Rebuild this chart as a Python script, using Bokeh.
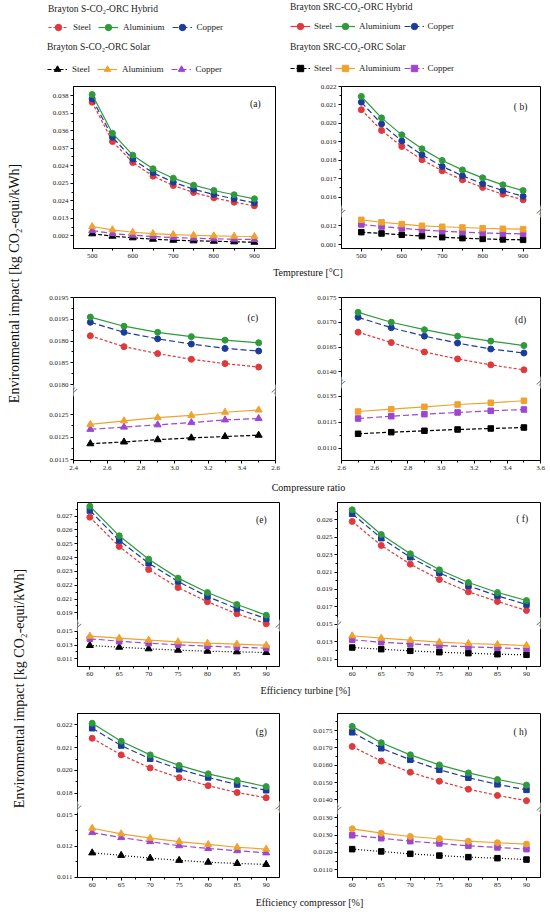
import math
from bokeh.plotting import figure
from bokeh.models import Range1d, FixedTicker, Label, Legend, LegendItem
from bokeh.layouts import column, row
from bokeh.embed import file_html
from bokeh.resources import INLINE

FONT = "Liberation Serif"
RED = "#e0393b"
GREEN = "#2f9a3c"
BLUE = "#1c3c9c"
BLACK = "#000000"
ORANGE = "#f0a22e"
PURPLE = "#9c46d2"

# ---------------- data ----------------
TEMP = [500, 550, 600, 650, 700, 750, 800, 850, 900]
CR = [2.5, 2.7, 2.9, 3.1, 3.3, 3.5]
EFF = [60, 65, 70, 75, 80, 85, 90]

A_H_STEEL = [0.03666, 0.02883, 0.02464, 0.02191, 0.02005, 0.01866, 0.01760, 0.01672, 0.01600]
A_H_ALU = [0.03820, 0.03048, 0.02610, 0.02338, 0.02151, 0.02011, 0.01905, 0.01820, 0.01740]
A_H_CU = [0.03734, 0.02968, 0.02530, 0.02258, 0.02071, 0.01931, 0.01826, 0.01740, 0.01660]
A_S_STEEL = [0.01042, 0.00994, 0.00962, 0.00934, 0.00914, 0.00902, 0.00894, 0.00882, 0.00874]
A_S_ALU = [0.01187, 0.01121, 0.01073, 0.01047, 0.01027, 0.01013, 0.01001, 0.00993, 0.00988]
A_S_CU = [0.01108, 0.01048, 0.01014, 0.00988, 0.00968, 0.00954, 0.00942, 0.00934, 0.00928]

B_H_STEEL = [0.02074, 0.01962, 0.01875, 0.01803, 0.01743, 0.01694, 0.01653, 0.01616, 0.01586]
B_H_ALU = [0.02146, 0.02030, 0.01938, 0.01862, 0.01799, 0.01748, 0.01705, 0.01667, 0.01636]
B_H_CU = [0.02115, 0.01997, 0.01905, 0.01830, 0.01767, 0.01716, 0.01673, 0.01636, 0.01605]
B_S_STEEL = [0.01166, 0.01159, 0.01152, 0.01145, 0.01139, 0.01134, 0.01130, 0.01127, 0.01125]
B_S_ALU = [0.01232, 0.01219, 0.01209, 0.01200, 0.01195, 0.01191, 0.01187, 0.01184, 0.01182]
B_S_CU = [0.01207, 0.01196, 0.01187, 0.01178, 0.01171, 0.01166, 0.01162, 0.01159, 0.01157]

C_H_STEEL = [0.01912, 0.01887, 0.01871, 0.01858, 0.01848, 0.01840]
C_H_ALU = [0.01955, 0.01934, 0.01920, 0.01910, 0.01902, 0.01896]
C_H_CU = [0.01943, 0.01920, 0.01905, 0.01893, 0.01883, 0.01877]
C_S_STEEL = [0.01185, 0.01189, 0.01194, 0.01198, 0.01201, 0.01204]
C_S_ALU = [0.01228, 0.01236, 0.01243, 0.01248, 0.01255, 0.01260]
C_S_CU = [0.01217, 0.01222, 0.01227, 0.01232, 0.01238, 0.01241]

D_H_STEEL = [0.01680, 0.01659, 0.01640, 0.01626, 0.01614, 0.01604]
D_H_ALU = [0.01720, 0.01700, 0.01685, 0.01672, 0.01662, 0.01653]
D_H_CU = [0.01710, 0.01689, 0.01672, 0.01658, 0.01646, 0.01638]
D_S_STEEL = [0.011277, 0.011308, 0.011335, 0.011360, 0.011379, 0.011398]
D_S_ALU = [0.011706, 0.011750, 0.011796, 0.011840, 0.011873, 0.011912]
D_S_CU = [0.011571, 0.011615, 0.011654, 0.011687, 0.011719, 0.011744]

E_H_STEEL = [0.02692, 0.02480, 0.02313, 0.02183, 0.02080, 0.01993, 0.01921]
E_H_ALU = [0.02771, 0.02557, 0.02388, 0.02251, 0.02147, 0.02060, 0.01983]
E_H_CU = [0.02740, 0.02523, 0.02359, 0.02227, 0.02118, 0.02031, 0.01957]
E_S_STEEL = [0.01293, 0.01268, 0.01245, 0.01225, 0.01210, 0.01201, 0.01191]
E_S_ALU = [0.01428, 0.01399, 0.01370, 0.01346, 0.01326, 0.01312, 0.01297]
E_S_CU = [0.01390, 0.01355, 0.01326, 0.01303, 0.01283, 0.01268, 0.01254]

F_H_STEEL = [0.02681, 0.02405, 0.02190, 0.02014, 0.01872, 0.01761, 0.01658]
F_H_ALU = [0.02815, 0.02531, 0.02309, 0.02125, 0.01979, 0.01864, 0.01772]
F_H_CU = [0.02769, 0.02489, 0.02270, 0.02091, 0.01941, 0.01826, 0.01726]
F_S_STEEL = [0.01232, 0.01213, 0.01194, 0.01178, 0.01167, 0.01155, 0.01148]
F_S_ALU = [0.01367, 0.01339, 0.01316, 0.01293, 0.01278, 0.01267, 0.01255]
F_S_CU = [0.01321, 0.01293, 0.01275, 0.01255, 0.01240, 0.01229, 0.01217]

G_H_STEEL = [0.02141, 0.02068, 0.02011, 0.01968, 0.01933, 0.01903, 0.01880]
G_H_ALU = [0.02207, 0.02128, 0.02068, 0.02022, 0.01985, 0.01956, 0.01929]
G_H_CU = [0.02185, 0.02109, 0.02051, 0.02005, 0.01969, 0.01938, 0.01913]
G_S_STEEL = [0.01178, 0.01170, 0.01161, 0.01154, 0.01148, 0.01144, 0.01141]
G_S_ALU = [0.01257, 0.01239, 0.01225, 0.01214, 0.01205, 0.01196, 0.01190]
G_S_CU = [0.01243, 0.01227, 0.01214, 0.01201, 0.01192, 0.01185, 0.01178]

H_H_STEEL = [0.01704, 0.01662, 0.01630, 0.01604, 0.01581, 0.01563, 0.01548]
H_H_ALU = [0.01762, 0.01715, 0.01680, 0.01651, 0.01628, 0.01609, 0.01593]
H_H_CU = [0.01745, 0.01699, 0.01666, 0.01637, 0.01614, 0.01595, 0.01579]
H_S_STEEL = [0.01219, 0.01206, 0.01192, 0.01182, 0.01173, 0.01167, 0.01159]
H_S_ALU = [0.01336, 0.01311, 0.01292, 0.01279, 0.01265, 0.01256, 0.01248]
H_S_CU = [0.01299, 0.01282, 0.01265, 0.01252, 0.01238, 0.01229, 0.01219]

# tick values and the labels as printed in the picture
TEMP_TICKS = [500, 600, 700, 800, 900]
TEMP_LABELS = ["500", "600", "700", "800", "900"]
CR_TICKS = [2.4, 2.6, 2.8, 3.0, 3.2, 3.4, 3.6]
C_XLABELS = ["2.4", "2.6", "2.8", "3.0", "3.2", "3.4", "2.6"]
D_XLABELS = ["2.6", "2.6", "2.8", "3.0", "3.2", "3.4", "3.6"]
EFF_TICKS = [60, 65, 70, 75, 80, 85, 90]
EFF_LABELS = ["60", "65", "70", "75", "80", "85", "90"]

A_YTICKS = [0.038, 0.0345, 0.031, 0.0275, 0.024, 0.0205, 0.017, 0.0135, 0.010]
A_YLABELS = ["0.038", "0.035", "0.036", "0.037", "0.024", "0.025", "0.024", "0.013", "0.002"]
B_YTICKS_U = [0.022, 0.021, 0.020, 0.019, 0.018, 0.017, 0.016]
B_YLABELS_U = ["0.022", "0.021", "0.020", "0.019", "0.018", "0.017", "0.016"]
B_YTICKS_L = [0.012, 0.011]
B_YLABELS_L = ["0.012", "0.001"]
C_YTICKS_U = [0.0200, 0.0195, 0.0190, 0.0185, 0.0180]
C_YLABELS_U = ["0.0195", "0.0195", "0.0180", "0.0185", "0.0180"]
C_YTICKS_L = [0.0125, 0.0120, 0.0115]
C_YLABELS_L = ["0.0125", "0.0125", "0.0115"]
D_YTICKS_U = [0.0175, 0.0170, 0.0165, 0.0160]
D_YLABELS_U = ["0.0175", "0.0170", "0.0165", "0.0140"]
D_YTICKS_L = [0.0120, 0.0115, 0.0110]
D_YLABELS_L = ["0.0135", "0.0115", "0.0110"]
E_YTICKS_U = [0.028, 0.027, 0.026, 0.025, 0.024, 0.023, 0.022, 0.021, 0.020]
E_YLABELS_U = ["0.028", "0.027", "0.026", "0.025", "0.024", "0.023", "0.022", "0.021", "0.019"]
E_YTICKS_L = [0.015, 0.013, 0.011]
E_YLABELS_L = ["0.015", "0.013", "0.011"]
F_YTICKS_U = [0.029, 0.027, 0.025, 0.023, 0.021, 0.019, 0.017, 0.015]
F_YLABELS_U = ["0.027", "0.026", "0.025", "0.023", "0.021", "0.019", "0.017", "0.015"]
F_YTICKS_L = [0.013, 0.011]
F_YLABELS_L = ["0.013", "0.011"]
G_YTICKS_U = [0.022, 0.021, 0.020, 0.019]
G_YLABELS_U = ["0.022", "0.021", "0.020", "0.018"]
G_YTICKS_L = [0.013, 0.012, 0.011]
G_YLABELS_L = ["0.015", "0.012", "0.011"]
H_YTICKS_U = [0.0180, 0.0175, 0.0170, 0.0165, 0.0160, 0.0155]
H_YLABELS_U = ["0.0180", "0.0175", "0.0170", "0.0160", "0.0150", "0.0140"]
H_YTICKS_L = [0.0140, 0.0130, 0.0120, 0.0110]
H_YLABELS_L = ["0.0130", "0.0130", "0.0120", "0.0110"]

YTITLE = "Environmental impact [kg CO\u2082-equi/kWh]"
XTITLES = ["Tempresture [\u00b0C]", "Compressure ratio", "Efficiency turbine [%]", "Efficiency compressor [%]"]
LEG_TITLES = ["Brayton S-CO\u2082-ORC Hybrid", "Brayton S-CO\u2082-ORC Solar",
              "Brayton SRC-CO\u2082-ORC Hybrid", "Brayton SRC-CO\u2082-ORC Solar"]
MATERIALS = ["Steel", "Aluminium", "Copper"]

# ---------------- layout / style ----------------
MSIZE = {"circle": 6, "square": 5.5, "triangle": 7}
LEFT_A = (35, 202, 25)
RIGHT_A = (41, 199, 9)
LEFT_B = (39, 202, 21)
RIGHT_B = (37, 203, 9)
ROWS = [(6, 162, 16), (17, 163, 19), (7, 164, 16), (15, 164, 16)]


def ymap(seg, fbot):
    v0, p0, s = seg
    return lambda v: round((fbot - p0) + (v - v0) * s, 3)


def style_axis(ax):
    ax.major_label_text_font = FONT
    ax.major_label_text_font_size = "7px"
    ax.major_label_text_color = "#222222"
    ax.major_tick_in = 0
    ax.major_tick_out = 3
    ax.minor_tick_in = 0
    ax.minor_tick_out = 2
    ax.axis_line_color = "black"
    ax.major_tick_line_color = "black"
    ax.minor_tick_line_color = "black"
    ax.major_label_standoff = 2


def panel(cfg, horiz, vert):
    bl, fw, br = horiz
    bt, fh, bb = vert
    ftop, fbot = cfg["frame"]
    H = fbot - ftop
    x0, x1 = cfg["xr"]
    p = figure(width=bl + fw + br, height=bt + fh + bb,
               min_border_left=bl, min_border_right=br,
               min_border_top=bt, min_border_bottom=bb,
               x_range=Range1d(x0, x1), y_range=Range1d(0, H),
               toolbar_location=None, output_backend="svg")
    p.xgrid.visible = False
    p.ygrid.visible = False
    p.outline_line_color = "black"
    p.outline_line_alpha = 1.0
    p.outline_line_width = 1
    maps = [ymap(s, fbot) for s in cfg["segs"]]
    yt, ym, yo = [], [], {}
    for m, ticks, labels in zip(maps, cfg["yticks"], cfg["ylabels"]):
        d = [m(t) for t in ticks]
        yt += d
        for a, b in zip(d[:-1], d[1:]):
            ym.append(round((a + b) / 2, 3))
        for k, lab in zip(d, labels):
            yo[k] = lab
    p.yaxis.ticker = FixedTicker(ticks=yt, minor_ticks=ym)
    p.yaxis.major_label_overrides = yo
    xm = cfg["xticks"]
    xminor = [round((a + b) / 2, 4) for a, b in zip(xm[:-1], xm[1:])]
    p.xaxis.ticker = FixedTicker(ticks=xm, minor_ticks=xminor)
    p.xaxis.major_label_overrides = dict(zip(xm, cfg["xlabels"]))
    style_axis(p.xaxis[0])
    style_axis(p.yaxis[0])

    up, lo = maps[0], maps[-1]
    x = cfg["x"]
    mk = cfg["mk"]
    series = [
        ("s_steel", BLACK, cfg["bdash"], lo),
        ("s_cu", PURPLE, "6 3", lo),
        ("s_alu", ORANGE, "solid", lo),
        ("h_steel", RED, "3 2", up),
        ("h_cu", BLUE, "6 3", up),
        ("h_alu", GREEN, "solid", up),
    ]
    for name, color, dash, m in series:
        yd = [m(v) for v in cfg[name]]
        p.line(x, yd, line_color=color, line_dash=dash, line_width=1.2)
        p.scatter(x, yd, marker=mk[name], size=MSIZE[mk[name]],
                  fill_color=color, line_color=color)

    if cfg["brk"] is not None:
        yb = fbot - cfg["brk"]
        for xv in (x0, x1):
            p.add_layout(Label(x=xv, y=yb, text="//", text_font=FONT,
                               text_font_size="10px", text_align="center",
                               text_baseline="middle", angle=-0.5,
                               background_fill_color="white", text_color="black"))
    fx, fy = cfg["tagpos"]
    p.add_layout(Label(x=x0 + fx * (x1 - x0), y=H * (1 - fy), text=cfg["tag"],
                       text_font=FONT, text_font_size="9.5px", text_align="center",
                       text_baseline="middle", text_color="#111111"))
    return p


MK_AD_TRI = dict(h_steel="circle", h_alu="circle", h_cu="circle",
                 s_steel="triangle", s_alu="triangle", s_cu="triangle")
MK_AD_SQ = dict(h_steel="circle", h_alu="circle", h_cu="circle",
                s_steel="square", s_alu="square", s_cu="square")

CFGS = {
    "a": dict(x=TEMP, h_steel=A_H_STEEL, h_alu=A_H_ALU, h_cu=A_H_CU,
              s_steel=A_S_STEEL, s_alu=A_S_ALU, s_cu=A_S_CU,
              mk=MK_AD_TRI, bdash="4 2", xr=(454, 952),
              xticks=TEMP_TICKS, xlabels=TEMP_LABELS,
              segs=[(0.038, 95.0, 5014.0)], yticks=[A_YTICKS], ylabels=[A_YLABELS],
              frame=(86, 248), brk=None, tag="(a)", tagpos=(0.90, 0.11)),
    "b": dict(x=TEMP, h_steel=B_H_STEEL, h_alu=B_H_ALU, h_cu=B_H_CU,
              s_steel=B_S_STEEL, s_alu=B_S_ALU, s_cu=B_S_CU,
              mk=MK_AD_SQ, bdash="4 2", xr=(451, 943),
              xticks=TEMP_TICKS, xlabels=TEMP_LABELS,
              segs=[(0.022, 86.0, 18450.0), (0.012, 225.3, 18700.0)],
              yticks=[B_YTICKS_U, B_YTICKS_L], ylabels=[B_YLABELS_U, B_YLABELS_L],
              frame=(86, 248), brk=211, tag="( b)", tagpos=(0.90, 0.128)),
    "c": dict(x=CR, h_steel=C_H_STEEL, h_alu=C_H_ALU, h_cu=C_H_CU,
              s_steel=C_S_STEEL, s_alu=C_S_ALU, s_cu=C_S_CU,
              mk=MK_AD_TRI, bdash="4 2", xr=(2.4, 3.6),
              xticks=CR_TICKS, xlabels=C_XLABELS,
              segs=[(0.0200, 297.0, 43500.0), (0.0125, 414.0, 45000.0)],
              yticks=[C_YTICKS_U, C_YTICKS_L], ylabels=[C_YLABELS_U, C_YLABELS_L],
              frame=(297, 460), brk=390, tag="(c)", tagpos=(0.888, 0.125)),
    "d": dict(x=CR, h_steel=D_H_STEEL, h_alu=D_H_ALU, h_cu=D_H_CU,
              s_steel=D_S_STEEL, s_alu=D_S_ALU, s_cu=D_S_CU,
              mk=MK_AD_SQ, bdash="4 2", xr=(2.4, 3.6),
              xticks=CR_TICKS, xlabels=D_XLABELS,
              segs=[(0.0175, 297.0, 49533.0), (0.0110, 447.7, 52000.0)],
              yticks=[D_YTICKS_U, D_YTICKS_L], ylabels=[D_YLABELS_U, D_YLABELS_L],
              frame=(297, 460), brk=382, tag="(d)", tagpos=(0.90, 0.141)),
    "e": dict(x=EFF, h_steel=E_H_STEEL, h_alu=E_H_ALU, h_cu=E_H_CU,
              s_steel=E_S_STEEL, s_alu=E_S_ALU, s_cu=E_S_CU,
              mk=dict(h_steel="circle", h_alu="circle", h_cu="square",
                      s_steel="triangle", s_alu="triangle", s_cu="square"),
              bdash="1 2", xr=(57.9, 92.25),
              xticks=EFF_TICKS, xlabels=EFF_LABELS,
              segs=[(0.028, 501.7, 13830.0), (0.015, 630.7, 6900.0)],
              yticks=[E_YTICKS_U, E_YTICKS_L], ylabels=[E_YLABELS_U, E_YLABELS_L],
              frame=(502, 666), brk=625, tag="(e)", tagpos=(0.91, 0.105)),
    "f": dict(x=EFF, h_steel=F_H_STEEL, h_alu=F_H_ALU, h_cu=F_H_CU,
              s_steel=F_S_STEEL, s_alu=F_S_ALU, s_cu=F_S_CU,
              mk=dict(h_steel="circle", h_alu="circle", h_cu="square",
                      s_steel="square", s_alu="triangle", s_cu="square"),
              bdash="1 2", xr=(57.47, 92.41),
              xticks=EFF_TICKS, xlabels=EFF_LABELS,
              segs=[(0.025, 536.7, 8700.0), (0.025, 536.7, 8700.0)],
              yticks=[F_YTICKS_U, F_YTICKS_L], ylabels=[F_YLABELS_U, F_YLABELS_L],
              frame=(502, 666), brk=622.7, tag="( f)", tagpos=(0.91, 0.098)),
    "g": dict(x=EFF, h_steel=G_H_STEEL, h_alu=G_H_ALU, h_cu=G_H_CU,
              s_steel=G_S_STEEL, s_alu=G_S_ALU, s_cu=G_S_CU,
              mk=dict(h_steel="circle", h_alu="circle", h_cu="square",
                      s_steel="triangle", s_alu="triangle", s_cu="triangle"),
              bdash="1 2", xr=(57.47, 92.3),
              xticks=EFF_TICKS, xlabels=EFF_LABELS,
              segs=[(0.022, 724.3, 22800.0), (0.011, 876.7, 31200.0)],
              yticks=[G_YTICKS_U, G_YTICKS_L], ylabels=[G_YLABELS_U, G_YLABELS_L],
              frame=(713, 877), brk=806.7, tag="(g)", tagpos=(0.91, 0.114)),
    "h": dict(x=EFF, h_steel=H_H_STEEL, h_alu=H_H_ALU, h_cu=H_H_CU,
              s_steel=H_S_STEEL, s_alu=H_S_ALU, s_cu=H_S_CU,
              mk=dict(h_steel="circle", h_alu="circle", h_cu="square",
                      s_steel="square", s_alu="circle", s_cu="square"),
              bdash="1 2", xr=(57.47, 92.41),
              xticks=EFF_TICKS, xlabels=EFF_LABELS,
              segs=[(0.018, 712.7, 34700.0), (0.011, 869.3, 17350.0)],
              yticks=[H_YTICKS_U, H_YTICKS_L], ylabels=[H_YLABELS_U, H_YLABELS_L],
              frame=(713, 877), brk=808, tag="( h)", tagpos=(0.90, 0.114)),
}


def blank(w, h, xr, yr):
    f = figure(width=w, height=h, x_range=Range1d(*xr), y_range=Range1d(*yr),
               toolbar_location=None, output_backend="svg", min_border=0,
               x_axis_type=None, y_axis_type=None)
    f.outline_line_color = None
    return f


# ---------------- legend ----------------
leg = blank(549, 80, (0, 1), (0, 1))
LEG_SPECS = [
    (LEG_TITLES[0], [(RED, "3 2", "circle"), (GREEN, "solid", "circle"), (BLUE, "6 3", "circle")], (48, 45), 7, 5, 5),
    (LEG_TITLES[1], [(BLACK, "4 2", "triangle"), (ORANGE, "solid", "triangle"), (PURPLE, "6 3", "triangle")], (47, 3), 7, 5, 9),
    (LEG_TITLES[2], [(RED, "solid", "circle"), (GREEN, "solid", "circle"), (BLUE, "6 3", "circle")], (290, 46), 3, 4, 6),
    (LEG_TITLES[3], [(BLACK, "4 2", "square"), (ORANGE, "solid", "square"), (PURPLE, "6 3", "square")], (290, 4), 3, 4, 8),
]
for title, styles, loc, spacing, standoff, tstand in LEG_SPECS:
    items = []
    for mat, (color, dash, marker) in zip(MATERIALS, styles):
        r1 = leg.line(x=[-5, -4], y=[-5, -5], line_color=color, line_dash=dash, line_width=1.2)
        r2 = leg.scatter(x=[-5], y=[-5], marker=marker, fill_color=color, line_color=color)
        items.append(LegendItem(label=mat, renderers=[r1, r2]))
    lg = Legend(items=items, orientation="horizontal", title=title, location=loc,
                label_text_font=FONT, label_text_font_size="9px", label_text_color="#222222",
                title_text_font=FONT, title_text_font_size="9.5px", title_text_font_style="normal",
                title_text_color="#222222", title_standoff=tstand,
                glyph_width=20, glyph_height=16, label_height=16, label_width=10,
                label_standoff=standoff, spacing=spacing, padding=0, margin=0,
                border_line_color=None, background_fill_alpha=0)
    leg.add_layout(lg)

# ---------------- y title strip ----------------
STRIP_H = 831
strip = blank(38, STRIP_H, (0, 38), (0, STRIP_H))
strip.add_layout(Label(x=14, y=STRIP_H - 203, text=YTITLE, angle=math.pi / 2, text_align="center",
                       text_baseline="middle", text_font=FONT, text_font_size="14px",
                       text_color="#111111"))
strip.add_layout(Label(x=19, y=STRIP_H - 608, text=YTITLE, angle=math.pi / 2, text_align="center",
                       text_baseline="middle", text_font=FONT, text_font_size="14px",
                       text_color="#111111"))

# ---------------- x titles ----------------
XT_H = [16, 16, 16, 18]
XT_X = [269.5, 270, 267, 271]
XT_Y = [8, 8, 8, 9.5]
xts = []
for t, h, xx, yy in zip(XTITLES, XT_H, XT_X, XT_Y):
    f = blank(511, h, (0, 511), (0, h))
    f.add_layout(Label(x=xx, y=yy, text=t, text_align="center", text_baseline="middle",
                       text_font=FONT, text_font_size="10px", text_color="#111111"))
    xts.append(f)

pa = panel(CFGS["a"], LEFT_A, ROWS[0])
pb = panel(CFGS["b"], RIGHT_A, ROWS[0])
pc = panel(CFGS["c"], LEFT_A, ROWS[1])
pd = panel(CFGS["d"], RIGHT_A, ROWS[1])
pe = panel(CFGS["e"], LEFT_B, ROWS[2])
pf = panel(CFGS["f"], RIGHT_B, ROWS[2])
pg = panel(CFGS["g"], LEFT_B, ROWS[3])
ph = panel(CFGS["h"], RIGHT_B, ROWS[3])

main = column(row(pa, pb), xts[0], row(pc, pd), xts[1], row(pe, pf), xts[2], row(pg, ph), xts[3])
page = column(leg, row(strip, main))

open("out.html", "w").write(file_html(page, INLINE))
